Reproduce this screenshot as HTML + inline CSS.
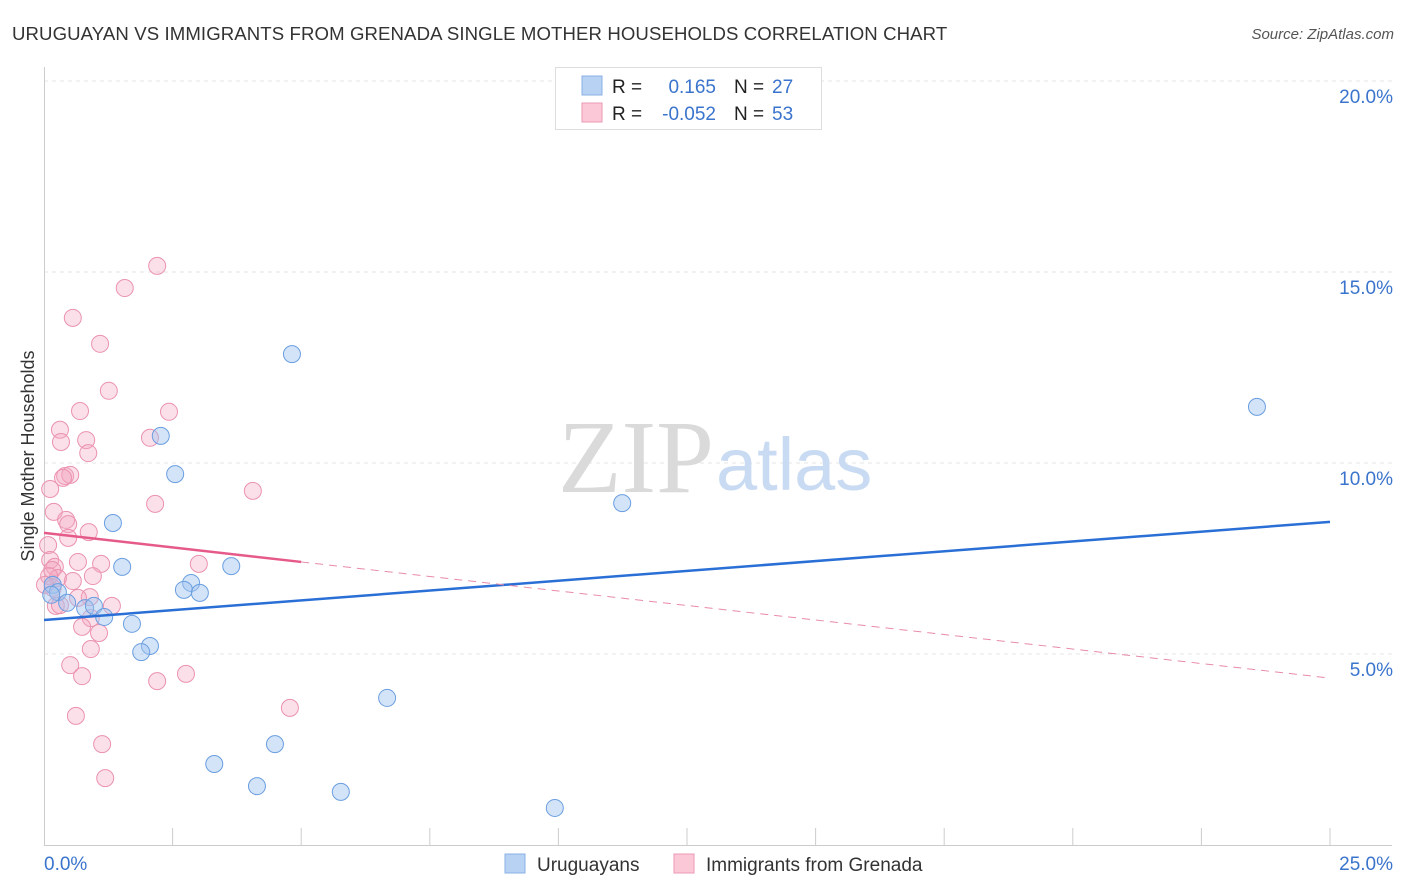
<!DOCTYPE html>
<html><head><meta charset="utf-8"><style>
body{margin:0;background:#fff;font-family:"Liberation Sans",sans-serif;}
svg{display:block}
</style></head><body>
<svg id="chart" width="1406" height="892">
<text x="12" y="40" font-size="18.6" fill="#333" letter-spacing="0.1">URUGUAYAN VS IMMIGRANTS FROM GRENADA SINGLE MOTHER HOUSEHOLDS CORRELATION CHART</text>
<text x="1394" y="39" font-size="15" fill="#555" font-style="italic" text-anchor="end">Source: ZipAtlas.com</text>
<g id="grid"></g>
<g id="axes"></g>
<text x="714" y="492" font-size="104" fill="#dadada" text-anchor="end" font-family="Liberation Serif,serif">ZIP</text>
<text x="716" y="490" font-size="74" fill="#c9dbf2">atlas</text>
<g id="pts"></g>
<g id="lines"></g>
<text x="34" y="456" font-size="18" fill="#333" text-anchor="middle" transform="rotate(-90 34 456)">Single Mother Households</text>
<g>
<rect x="555.5" y="67.5" width="266" height="62" fill="#fff" stroke="#ddd"/>
<rect x="582" y="76" width="20" height="19" fill="#b8d2f4" stroke="#8ab0e6"/>
<rect x="582" y="103" width="20" height="19" fill="#fac8d6" stroke="#ee9ab6"/>
<text x="612" y="93" font-size="19" fill="#222">R = </text><text x="716" y="93" font-size="19" fill="#3a74cc" text-anchor="end">0.165</text>
<text x="734" y="93" font-size="19" fill="#222">N = </text><text x="772" y="93" font-size="19" fill="#3a74cc">27</text>
<text x="612" y="120" font-size="19" fill="#222">R = </text><text x="716" y="120" font-size="19" fill="#3a74cc" text-anchor="end">-0.052</text>
<text x="734" y="120" font-size="19" fill="#222">N = </text><text x="772" y="120" font-size="19" fill="#3a74cc">53</text>
</g>
<g>
<rect x="505" y="854" width="20" height="19" fill="#b8d2f4" stroke="#8ab0e6"/>
<text x="537" y="871" font-size="19" fill="#333">Uruguayans</text>
<rect x="674" y="854" width="20" height="19" fill="#fac8d6" stroke="#ee9ab6"/>
<text x="706" y="871" font-size="19" fill="#333">Immigrants from Grenada</text>
</g>
</svg>
<script>
const yTicks=[5,10,15,20];
const yTickLabels=["5.0%","10.0%","15.0%","20.0%"];
const xTickLabels=["0.0%","25.0%"];
const blueX=[4.82,23.58,2.27,2.55,11.24,1.34,1.52,3.64,2.86,2.72,3.03,0.17,0.27,0.45,0.80,0.97,1.17,1.71,2.06,1.89,6.67,4.49,3.31,4.14,5.77,9.93,0.14];
const blueY=[12.85,11.47,10.71,9.71,8.95,8.43,7.28,7.30,6.86,6.68,6.60,6.81,6.62,6.34,6.20,6.26,5.97,5.79,5.21,5.05,3.85,2.64,2.12,1.54,1.39,0.97,6.55];
const pinkX=[2.20,1.57,0.56,1.09,1.26,0.70,2.43,0.31,0.82,0.33,2.06,0.86,0.41,0.51,0.37,0.12,4.06,2.16,0.19,0.43,0.47,0.87,0.47,0.08,0.12,0.66,1.11,0.21,0.16,3.01,0.95,0.56,0.27,0.17,0.23,0.89,0.66,0.31,1.32,0.91,0.74,1.07,0.91,0.51,0.74,2.20,2.76,4.78,0.62,1.13,1.19,0.10,0.02];
const pinkY=[15.16,14.58,13.80,13.12,11.89,11.36,11.34,10.87,10.60,10.55,10.66,10.26,9.66,9.69,9.61,9.32,9.27,8.93,8.72,8.51,8.40,8.19,8.04,7.85,7.46,7.41,7.36,7.28,7.20,7.36,7.04,6.91,6.99,6.73,6.26,6.49,6.47,6.28,6.26,5.94,5.71,5.55,5.13,4.71,4.42,4.29,4.48,3.59,3.38,2.64,1.75,7.04,6.81];
const blueLine=[5.89,8.46];
const pinkLine=[8.17,4.37];
const pinkSolidEnd=5;
const NS="http://www.w3.org/2000/svg";
const X=v=>44+v/25*1286, Y=v=>845-v/5*191;
function mk(t,a,p){const e=document.createElementNS(NS,t);for(const k in a)e.setAttribute(k,a[k]);p.appendChild(e);return e;}
const grid=document.getElementById('grid'),axes=document.getElementById('axes');
yTicks.forEach((t,i)=>{
 const l=mk('line',{x1:44,x2:1392,y1:Y(t),y2:Y(t),stroke:'#e4e4e4','stroke-dasharray':'4,4'},grid);
 
 
 const tx=mk('text',{x:1393,y:Y(t)+22,'font-size':19,fill:'#3a74cc','text-anchor':'end'},axes);
 tx.textContent=yTickLabels[i];
 
 
});
mk('line',{x1:44.5,x2:44.5,y1:67,y2:845,stroke:'#ccc'},axes);
mk('line',{x1:44,x2:1392,y1:845.5,y2:845.5,stroke:'#ccc'},axes);
for(let i=1;i<=10;i++){mk('line',{x1:X(i*2.5),x2:X(i*2.5),y1:828,y2:845,stroke:'#ccc'},axes);}
[[0,'start',44],[25,'end',1393]].forEach((d,i)=>{const tx=mk('text',{x:d[2],y:870,'font-size':19,fill:'#3a74cc','text-anchor':d[1]},axes);tx.textContent=xTickLabels[i];
 
 });
const pts=document.getElementById('pts');
pinkX.forEach((v,i)=>{const c=mk('circle',{cx:X(v),cy:Y(pinkY[i]),r:8.5,fill:'rgba(244,165,192,0.35)',stroke:'#eb92b0','stroke-width':1},pts);
 
 });
blueX.forEach((v,i)=>{const c=mk('circle',{cx:X(v),cy:Y(blueY[i]),r:8.5,fill:'rgba(160,196,240,0.45)',stroke:'#6a9ee0','stroke-width':1},pts);
 
 });
const lines=document.getElementById('lines');
const py=x=>pinkLine[0]+(pinkLine[1]-pinkLine[0])*x/25;
let l1=mk('line',{x1:X(0),y1:Y(blueLine[0]),x2:X(25),y2:Y(blueLine[1]),stroke:'#2a6fd6','stroke-width':2.5},lines);


let l2=mk('line',{x1:X(0),y1:Y(py(0)),x2:X(pinkSolidEnd),y2:Y(py(pinkSolidEnd)),stroke:'#e65a8a','stroke-width':2.5},lines);


let l3=mk('line',{x1:X(pinkSolidEnd),y1:Y(py(pinkSolidEnd)),x2:X(25),y2:Y(py(25)),stroke:'#e88aaa','stroke-width':1,'stroke-dasharray':'8,6'},lines);


</script>
</body></html>
